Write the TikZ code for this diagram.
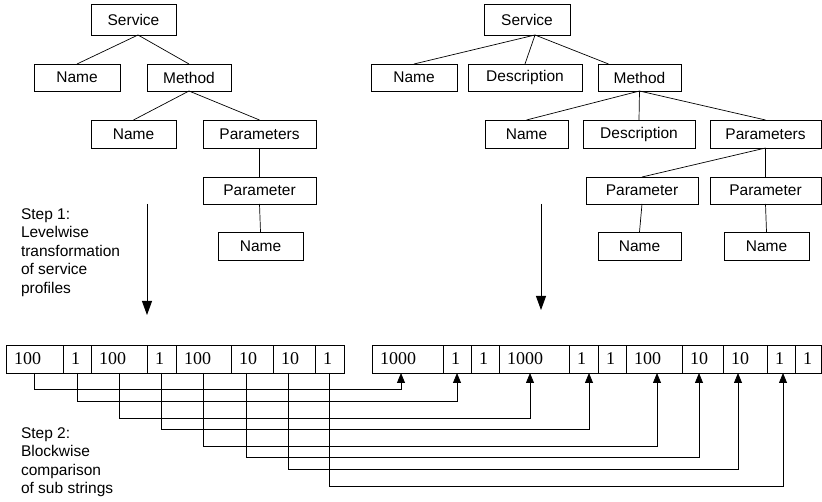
\documentclass[tikz,border=0pt]{standalone}
\usepackage{fontspec}
\setmainfont{Liberation Sans}
\newfontfamily\cellfont{Liberation Serif}
\usetikzlibrary{arrows.meta}

\begin{document}
\begin{tikzpicture}[x=1pt,y=-1pt,inner sep=0pt,outer sep=0pt,line width=0.7pt,
font=\fontsize{15.5pt}{18.5pt}\selectfont,
treebox/.style={draw,rectangle,minimum width=#1,minimum height=27pt},
treebox/.default=85pt,
cellbox/.style={draw,rectangle,anchor=west,line width=0.9pt,minimum height=28pt,inner xsep=8pt,
  text width=#1,align=left,font=\cellfont\fontsize{18pt}{20pt}\selectfont},
steptext/.style={anchor=north west,align=left},
bigarrow/.style={line width=0.8pt,-{Triangle[length=14pt,width=10pt]}},
link/.style={line width=0.8pt,-{Triangle[length=10pt,width=8pt]}}]

\useasboundingbox (0,0) rectangle (822,502);

% left profile
\draw (133.5,19.5) node[treebox,minimum height=31pt] (svcL) {Service};
\draw (77,77.5) node[treebox=86pt] (nameL1) {Name};
\draw (189,77.5) node[treebox=84pt] (methL) {Method};
\draw (133.5,134) node[treebox,minimum height=28pt] (nameL2) {Name};
\draw (259.5,134) node[treebox=113pt,minimum height=28pt] (parsL) {Parameters};
\draw (259.5,190.5) node[treebox=113pt] (parL) {Parameter};
\draw (260.5,246) node[treebox,minimum height=28pt] (nameL4) {Name};

\draw ([xshift=4.5pt]svcL.south) -- (nameL1.north);
\draw ([xshift=4.5pt]svcL.south) -- (methL.north);
\draw (methL.south) -- (nameL2.north);
\draw (methL.south) -- (parsL.north);
\draw (parsL.south) -- (parL.north);
\draw (parL.south) -- (nameL4.north);

% right profile
\draw (527,19.5) node[treebox=86pt,minimum height=31pt] (svcR) {Service};
\draw (414,77.5) node[treebox=86pt] (nameR1) {Name};
\draw (525,77.5) node[treebox=114pt] (descR1) {Description};
\draw (639.5,77.5) node[treebox=83pt] (methR) {Method};
\draw (526.5,134) node[treebox=83pt,minimum height=28pt] (nameR2) {Name};
\draw (639,134) node[treebox=112pt,minimum height=28pt] (descR2) {Description};
\draw (765.5,134) node[treebox=111pt,minimum height=28pt] (parsR) {Parameters};
\draw (642,190.5) node[treebox=112pt] (parRa) {Parameter};
\draw (765.5,190.5) node[treebox=111pt] (parRb) {Parameter};
\draw (639.5,246) node[treebox=83pt,minimum height=28pt] (nameRa) {Name};
\draw (766.5,246) node[treebox,minimum height=28pt] (nameRb) {Name};

\draw ([xshift=8pt]svcR.south) -- (nameR1.north);
\draw ([xshift=8pt]svcR.south) -- (descR1.north);
\draw ([xshift=8pt]svcR.south) -- ([xshift=-31pt]methR.north);
\draw (methR.south) -- (nameR2.north);
\draw (methR.south) -- (descR2.north);
\draw (methR.south) -- (parsR.north);
\draw (parsR.south) -- (parRa.north);
\draw (parsR.south) -- (parRb.north);
\draw (parRa.south) -- (nameRa.north);
\draw (parRb.south) -- (nameRb.north);

% step 1
\draw (21,208.5) node[steptext] (step1) {Step 1:\\Levelwise\\transformation\\of service\\profiles};
\coordinate (a1s) at (147,204);
\coordinate (a1e) at (147,315);
\coordinate (a2s) at (541,204);
\coordinate (a2e) at (541,310);
\draw[bigarrow] (a1s) -- (a1e);
\draw[bigarrow] (a2s) -- (a2e);

% strings
\draw (6,359) node[cellbox=41pt] (l1) {100};
\draw (63,359) node[cellbox=12pt] (l2) {1};
\draw (91,359) node[cellbox=40pt] (l3) {100};
\draw (147,359) node[cellbox=13pt] (l4) {1};
\draw (176,359) node[cellbox=39pt] (l5) {100};
\draw (231,359) node[cellbox=26pt] (l6) {10};
\draw (273,359) node[cellbox=26pt] (l7) {10};
\draw (315,359) node[cellbox=13pt] (l8) {1};

\draw (372,359) node[cellbox=55pt] (r1) {1000};
\draw (443,359) node[cellbox=12pt] (r2) {1};
\draw (471,359) node[cellbox=12pt] (r3) {1};
\draw (499,359) node[cellbox=54pt] (r4) {1000};
\draw (569,359) node[cellbox=13pt] (r5) {1};
\draw (598,359) node[cellbox=12pt] (r6) {1};
\draw (626,359) node[cellbox=40pt] (r7) {100};
\draw (682,359) node[cellbox=25pt] (r8) {10};
\draw (723,359) node[cellbox=28pt] (r9) {10};
\draw (767,359) node[cellbox=12pt] (r10) {1};
\draw (795,359) node[cellbox=10pt] (r11) {1};

% step 2
\draw (21,427.5) node[steptext] (step2) {Step 2:\\Blockwise\\comparison\\of sub strings};
\draw[link] (l1.south) -- ++(0,16) -| ([xshift=-6.5pt]r1.south);
\draw[link] (l2.south) -- ++(0,28) -| (r2.south);
\draw[link] (l3.south) -- ++(0,45) -| ([xshift=-4pt]r4.south);
\draw[link] (l4.south) -- ++(0,56) -| ([xshift=5.5pt]r5.south);
\draw[link] (l5.south) -- ++(0,73) -| ([xshift=3pt]r7.south);
\draw[link] ([xshift=-6pt]l6.south) -- ++(0,84) -| ([xshift=-3.5pt]r8.south);
\draw[link] ([xshift=-6pt]l7.south) -- ++(0,96) -| ([xshift=-7pt]r9.south);
\draw[link] (l8.south) -- ++(0,113) -| ([xshift=2pt]r10.south);
\end{tikzpicture}
\end{document}
